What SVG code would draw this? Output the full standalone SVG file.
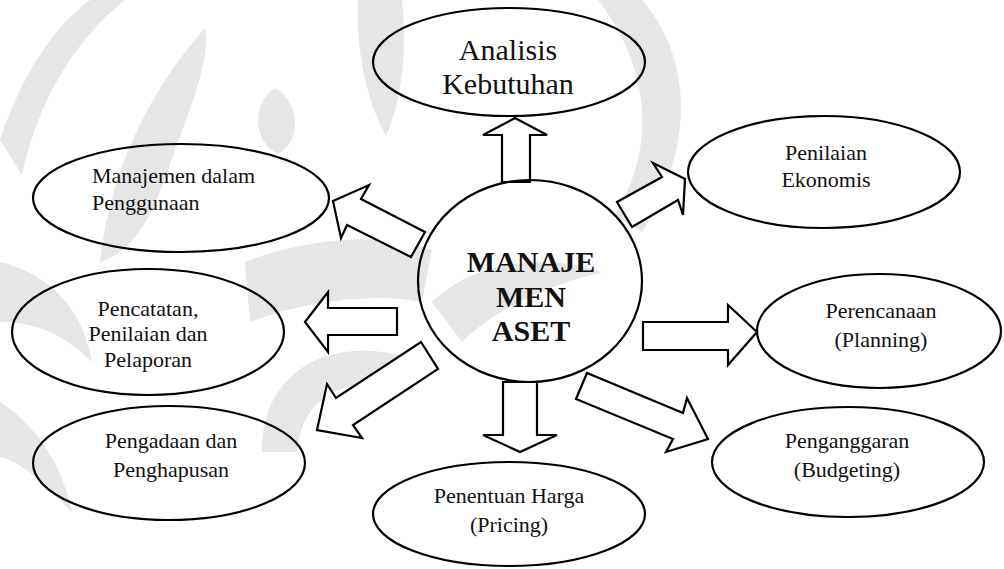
<svg xmlns="http://www.w3.org/2000/svg" width="1004" height="569" viewBox="0 0 1004 569">
<style>
.wm{fill:#e6e6e6;stroke:none}
.node{fill:none;stroke:#000;stroke-width:2.2}
.arr{fill:#fff;stroke:#000;stroke-width:2.2;stroke-linejoin:miter}
.lbl{font-family:"Liberation Serif","Times New Roman",serif;font-size:22px;fill:#111;text-anchor:middle}
.lft{text-anchor:start}
.big{font-size:30px}
.ctr{font-family:"Liberation Serif","Times New Roman",serif;font-size:30px;font-weight:bold;fill:#111;text-anchor:middle}
</style>
<rect width="1004" height="569" fill="#fff"/>
<g id="watermark">
<path class="wm" d="M 0 140 C 20 80 50 30 90 0 L 125 0 C 75 40 38 100 22 175 Z"/>
<path class="wm" d="M 100 262 C 110 170 150 90 205 28 C 212 62 184 122 164 182 C 148 222 132 252 100 262 Z"/>
<path class="wm" d="M 275 88 C 298 100 304 140 278 154 C 252 142 252 102 275 88 Z"/>
<path class="wm" d="M 358 0 L 402 0 C 407 50 402 100 386 136 C 366 100 356 50 358 0 Z"/>
<path class="wm" d="M 598 0 L 642 0 C 694 60 694 150 642 232 L 614 216 C 656 150 652 70 598 0 Z"/>
<path class="wm" d="M 245 262 C 300 240 380 230 432 250 L 422 302 C 372 292 302 302 250 322 Z"/>
<path class="wm" d="M 262 452 C 262 362 342 332 422 362 L 412 392 C 352 372 302 392 297 452 Z"/>
<path class="wm" d="M 0 262 C 42 272 82 302 92 362 C 62 332 32 322 0 322 Z"/>
<path class="wm" d="M 0 402 C 32 422 62 462 72 512 C 42 482 22 462 0 457 Z"/>
<path class="wm" d="M 432 302 C 472 262 542 252 602 272 C 562 282 502 302 462 342 Z"/>
</g>
<g id="connectors">
<polygon class="arr" points="515,118 547,135 530,135 530,182 502,182 502,135 483,135"/>
<polygon class="arr" points="632,227 617,202 662,177 653,163 685,179 683,215 678,200"/>
<polygon class="arr" points="643,322 728,322 728,305 757,332 728,365 728,350 643,350"/>
<polygon class="arr" points="587,373 576,399 673,439 666,452 708,439 687,398 683,413"/>
<polygon class="arr" points="503,382 537,382 537,435 557,435 520,452 483,435 503,435"/>
<polygon class="arr" points="421,342 438,369 353,425 362,438 317,430 327,384 336,398"/>
<polygon class="arr" points="305,322 328,292 328,308 397,308 397,335 328,335 328,352"/>
<polygon class="arr" points="333,201 369,185 361,199 425,232 411,257 347,225 341,238"/>
</g>
<g id="center">
<ellipse class="node" cx="530" cy="281" rx="112" ry="101"/>
<text class="ctr" x="531" y="272">MANAJE</text>
<text class="ctr" x="531" y="307">MEN</text>
<text class="ctr" x="531" y="341">ASET</text>
</g>
<g id="analisis">
<ellipse class="node" cx="509" cy="62" rx="136" ry="54"/>
<text class="lbl big" x="508" y="60">Analisis</text>
<text class="lbl big" x="508" y="94">Kebutuhan</text>
</g>
<g id="penilaian-ekonomis">
<ellipse class="node" cx="824" cy="172" rx="136" ry="56"/>
<text class="lbl" x="826" y="160">Penilaian</text>
<text class="lbl" x="826" y="187">Ekonomis</text>
</g>
<g id="perencanaan">
<ellipse class="node" cx="879" cy="331" rx="122" ry="57"/>
<text class="lbl" x="881" y="318">Perencanaan</text>
<text class="lbl" x="881" y="347">(Planning)</text>
</g>
<g id="penganggaran">
<ellipse class="node" cx="848" cy="462" rx="136" ry="55"/>
<text class="lbl" x="847" y="448">Penganggaran</text>
<text class="lbl" x="847" y="477">(Budgeting)</text>
</g>
<g id="penentuan-harga">
<ellipse class="node" cx="509" cy="514" rx="136" ry="52"/>
<text class="lbl" x="509" y="503">Penentuan Harga</text>
<text class="lbl" x="509" y="532">(Pricing)</text>
</g>
<g id="pengadaan">
<ellipse class="node" cx="169" cy="463" rx="136" ry="57"/>
<text class="lbl" x="171" y="448">Pengadaan dan</text>
<text class="lbl" x="171" y="477">Penghapusan</text>
</g>
<g id="pencatatan">
<ellipse class="node" cx="148" cy="332" rx="136" ry="63"/>
<text class="lbl" x="148" y="316">Pencatatan,</text>
<text class="lbl" x="148" y="341">Penilaian dan</text>
<text class="lbl" x="148" y="367">Pelaporan</text>
</g>
<g id="manajemen-penggunaan">
<ellipse class="node" cx="181" cy="198" rx="148" ry="54"/>
<text class="lbl lft" x="92" y="183">Manajemen dalam</text>
<text class="lbl lft" x="92" y="210">Penggunaan</text>
</g>
</svg>
